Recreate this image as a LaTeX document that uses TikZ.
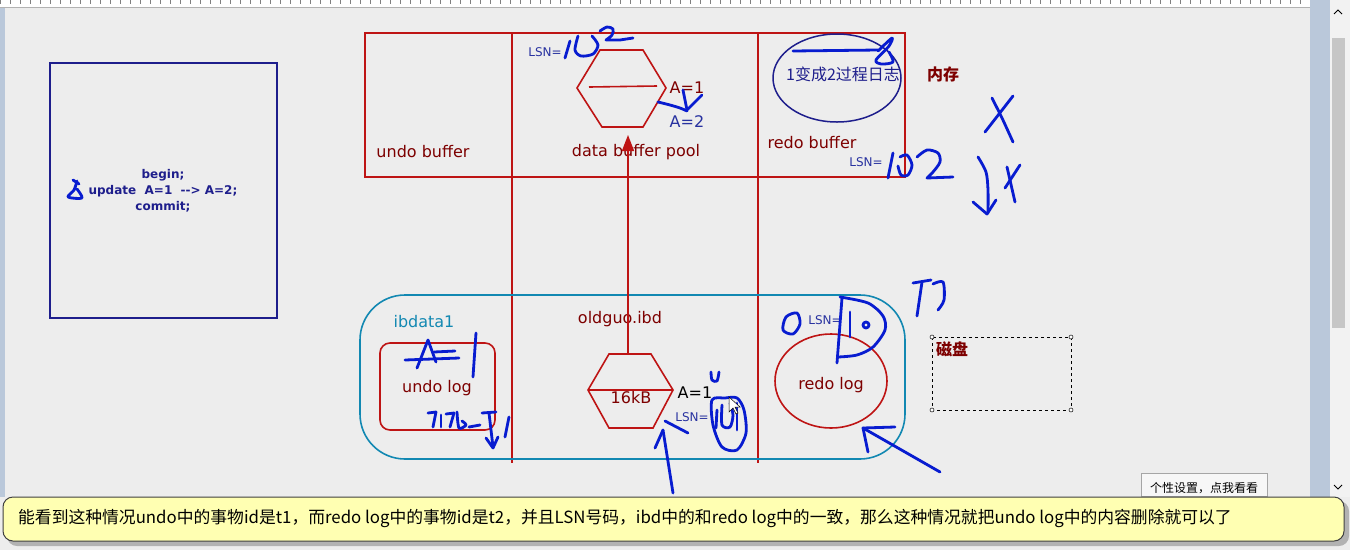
\documentclass[tikz,border=0pt]{standalone}
\usepackage{fontspec}
\setmainfont{DejaVu Sans}
\newfontfamily\cjk{Noto Sans CJK SC}
\usetikzlibrary{arrows.meta}

\definecolor{memred}{RGB}{190,20,20}
\definecolor{txtred}{RGB}{125,0,0}
\definecolor{diskteal}{RGB}{18,136,178}
\definecolor{navy}{RGB}{30,30,140}
\definecolor{lsnblue}{RGB}{40,50,160}
\definecolor{inkblue}{RGB}{8,28,208}
\definecolor{bggray}{RGB}{237,237,237}
\definecolor{trackblue}{RGB}{186,200,218}
\definecolor{tipyellow}{RGB}{255,255,178}

\tikzset{
  memline/.style={draw=memred, line width=1.6pt},
  ink/.style={draw=inkblue, line width=2.8pt, line cap=round, line join=round},
  lbl/.style={text=txtred, font=\fontsize{16}{18}\selectfont, inner sep=0pt},
  lsn/.style={text=lsnblue, font=\fontsize{12}{14}\selectfont, inner sep=0pt},
  sqltxt/.style={text=navy, font=\bfseries\fontsize{12}{16}\selectfont, inner sep=0pt},
}

\begin{document}
\begin{tikzpicture}[x=1pt,y=-1pt]
\useasboundingbox (0,0) rectangle (1350,550);
\fill[bggray] (0,0) rectangle (1350,550);
% window frame and scroll bar
\fill[white] (0,0) rectangle (1310,7);
\foreach \x in {0,10,...,1300} \draw[gray, line width=0.5pt] (\x,0) -- (\x,4);
\draw[gray!60] (0,7) -- (1310,7);
\fill[trackblue] (0,8) rectangle (5,497);
\fill[trackblue] (1310,0) rectangle (1330,497);
\fill[gray!10] (1330,0) rectangle (1350,497);
\fill[gray!45] (1332,38) rectangle (1345,328);
\draw[line width=1pt] (1334,14) -- (1338,10) -- (1342,14);
\draw[line width=1pt] (1334,485) -- (1338,489) -- (1342,485);

% transaction box
\draw[navy, line width=1.8pt] (50,63) rectangle (277,318);
\node[sqltxt, align=center] (sql) at (163,191) {begin;\\update~~A=1~~-{}->~A=2;\\commit;};

% memory
\draw[memline] (365,33) rectangle (905,177);
\draw[memline] (512,33) -- (512,463);
\draw[memline] (758,33) -- (758,463);
\node[lbl] (undobuf) at (423,152) {undo buffer};
\node[lbl] (poolbuf) at (636,152) {data buffer pool};
\node[lbl] (redobuf) at (812,143) {redo buffer};
\node[lbl, font=\cjk\bfseries\fontsize{16}{18}\selectfont] (mem) at (943,74) {内存};
\draw[memline] (577,88) -- (600,50) -- (643,50) -- (666,88) -- (643,127) -- (602,127) -- cycle;
\draw[memline] (589,87) -- (657,86);
\coordinate (pooltip) at (628,135);
\node[lbl] (poolA) at (687,88) {A=1};
\node[lbl, text=lsnblue] (poolA2) at (687,122) {A=2};
\node[lsn] (poollsn) at (545,52) {LSN=};
\draw[navy, line width=1.5pt] (837,78) ellipse (64pt and 44pt);
\node[text=navy, font=\cjk\fontsize{16}{18}\selectfont, inner sep=0pt] (redonote) at (843,74) {1变成2过程日志};
\node[lsn] (redobuflsn) at (866,162) {LSN=};

% disk
\draw[diskteal, line width=1.6pt, rounded corners=45pt] (360,295) rectangle (905,459);
\node[lbl, text=diskteal] (ibdata) at (424,322) {ibdata1};
\node[lbl] (ibd) at (620,319) {oldguo.ibd};
\draw[memline, rounded corners=10pt] (380,343) rectangle (495,430);
\node[lbl] (undolog) at (437,388) {undo log};
\draw[memline] (588,390) -- (609,354) -- (651,354) -- (673,390) -- (653,428) -- (609,428) -- cycle;
\draw[memline] (588,390) -- (673,390);
\coordinate (ibdtop) at (628,354);
\node[lbl] (page) at (631,398) {16kB};
\node[lbl, text=black] (pageA) at (695,393) {A=1};
\node[lsn] (pagelsn) at (692,417) {LSN=};
\draw[memline] (831,381) ellipse (56pt and 47pt);
\node[lbl] (redolog) at (831,385) {redo log};
\node[lsn] (redologlsn) at (825,320) {LSN=};
\draw[memline, -{Triangle[length=16pt,width=12pt]}] (ibdtop) -- (pooltip);

\draw[black, dashed, line width=0.8pt] (932,337) rectangle (1071,410);
\foreach \c in {(932,337),(1071,337),(932,410),(1071,410)}
  \draw[black, fill=white, line width=0.5pt] \c circle (2pt);
\node[lbl, font=\cjk\bfseries\fontsize{16}{18}\selectfont] (disk) at (952,349) {磁盘};

% handwriting
\draw[ink] (565,58) -- (570,41);
\draw[ink] plot[smooth] coordinates {(578,36) (575,50) (581,56) (593,54) (598,45) (592,36)};
\draw[ink] plot[smooth] coordinates {(600,31) (607,27) (613,29) (612,35) (606,40)} -- (620,40) -- (633,38);
\draw[ink] plot[smooth] coordinates {(658,102) (670,105) (680,108) (687,111)};
\draw[ink] (683,90) -- (687,110) -- (702,95);
\draw[ink] (793,51) -- (878,50);
\draw[ink] plot[smooth] coordinates {(878,51) (892,38) (889,46) (876,60) (881,64) (893,62) (889,52)};
\draw[ink] (888,178) -- (893,153);
\draw[ink] plot[smooth] coordinates {(900,157) (907,155) (912,165) (908,175) (901,175) (898,166)};
\draw[ink] plot[smooth] coordinates {(917,157) (927,150) (938,153) (940,162) (933,172) (927,178)} -- (953,177);
\draw[ink] plot[smooth] coordinates {(992,98) (1002,118) (1013,142)};
\draw[ink] (1013,96) -- (985,132);
\draw[ink] plot[smooth] coordinates {(978,157) (986,172) (988,190) (988,213)};
\draw[ink] (973,202) -- (987,214) -- (996,200);
\draw[ink] (1007,167) -- (1015,202);
\draw[ink] (1020,165) -- (1005,188);
\draw[ink] (913,283) -- (931,280);
\draw[ink] (922,282) -- (917,316);
\draw[ink] plot[smooth] coordinates {(933,284) (943,282) (944,300) (938,310)};
\draw[ink] plot[smooth] coordinates {(77,181) (74,190) (68,197) (82,198) (77,189)};
\draw[ink] (73,180) -- (79,184);
\draw[ink] (417,368) -- (428,340) -- (436,362);
\draw[ink] (405,360) -- (459,358);
\draw[ink] (434,352) -- (455,351);
\draw[ink] (476,333) -- (473,377);
\draw[ink] (428,413) -- (436,412) -- (433,427);
\draw[ink] (441,415) -- (441,427);
\draw[ink] (446,414) -- (454,413) -- (450,427);
\draw[ink] plot[smooth] coordinates {(457,412) (459,428) (466,425) (462,421)};
\draw[ink] (469,427) -- (480,425);
\draw[ink] (482,413) -- (496,412);
\draw[ink] (489,413) -- (493,447);
\draw[ink] (486,438) -- (493,448) -- (498,437);
\draw[ink] (509,417) -- (505,437);
\draw[ink] (673,493) -- (663,430);
\draw[ink] (655,448) -- (663,430);
\draw[ink] (665,421) -- (688,433);
\draw[ink] plot[smooth] coordinates {(711,372) (712,380) (717,381) (719,372)};
\draw[ink] plot[smooth cycle] coordinates {(712,400) (713,425) (722,447) (737,450) (746,433) (744,410) (737,398) (725,398)};
\draw[ink] (717,410) -- (716,428);
\draw[ink] plot[smooth] coordinates {(722,405) (722,425) (730,427) (733,415) (730,403)};
\draw[ink] (737,403) -- (737,430);
\draw[black, fill=white, line width=0.5pt] (729,397) -- (729,412) -- (733,408) -- (736,414) -- (738,413) -- (735,407) -- (740,407) -- cycle;
\draw[ink] plot[smooth cycle] coordinates {(797,313) (786,317) (783,330) (793,334) (800,324)};
\draw[ink] (842,298) -- (837,363);
\draw[ink] plot[smooth] coordinates {(840,297) (868,303) (883,316) (885,330) (873,347) (857,355) (838,357)};
\draw[ink] (850,312) -- (850,337);
\draw[ink] (866,325) circle (3pt);
\draw[ink] (940,472) -- (863,428);
\draw[ink] (868,452) -- (863,428) -- (895,427);

% button and tooltip
\draw[gray!70, fill=gray!6] (1141,473) rectangle (1267,496);
\node[font=\cjk\fontsize{12}{14}\selectfont, inner sep=0pt] (setbtn) at (1204,488) {个性设置，点我看看};
\fill[gray!60, rounded corners=10pt] (7,501) rectangle (1349,546);
\draw[black!75, fill=tipyellow, line width=1pt, rounded corners=10pt] (3,497) rectangle (1344,541);
\node[anchor=west, font=\cjk\fontsize{16.8}{19}\selectfont, inner sep=0pt] (tip) at (18,518) {能看到这种情况undo中的事物id是t1，而redo log中的事物id是t2，并且LSN号码，ibd中的和redo log中的一致，那么这种情况就把undo log中的内容删除就可以了};
\end{tikzpicture}
\end{document}
